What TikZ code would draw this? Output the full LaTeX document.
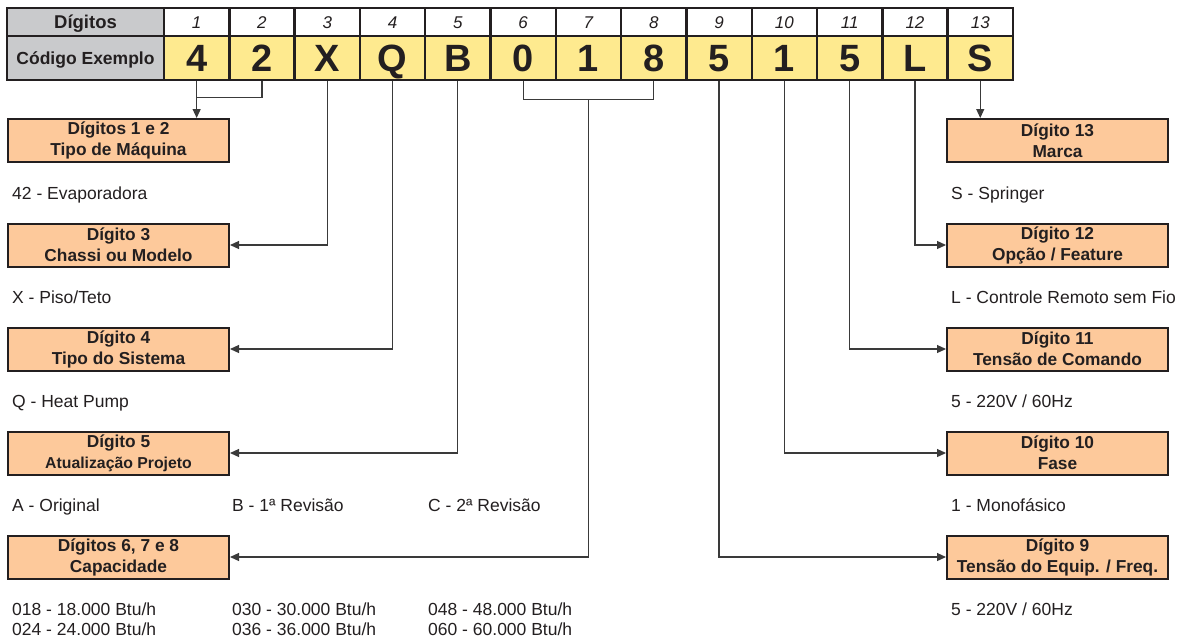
\documentclass[tikz,border=0pt]{standalone}
\usepackage{fontspec}
\setmainfont{Liberation Sans}
\usetikzlibrary{arrows.meta,calc}
\definecolor{ink}{HTML}{231F20}
\definecolor{hdrgray}{HTML}{C9CACC}
\definecolor{codeyel}{HTML}{FEEA8F}
\definecolor{peach}{HTML}{FDC99B}
\definecolor{wire}{HTML}{3A3A3A}
\tikzset{
  cell/.style={draw=ink, line width=2.4pt, minimum width=65.3pt, inner sep=0pt, text=ink},
  numcell/.style={cell, minimum height=28pt, text height=12.2pt, text depth=0pt, font=\fontsize{17}{20}\selectfont\itshape},
  codecell/.style={cell, fill=codeyel, minimum height=44pt, text height=27.5pt, text depth=0pt, font=\fontsize{38}{40}\selectfont\bfseries},
  hdr/.style={draw=ink, line width=2.4pt, fill=hdrgray, minimum width=157pt, inner sep=0pt, text depth=0pt, text=ink},
  infobox/.style={draw=ink, line width=2pt, fill=peach, minimum width=221pt, minimum height=43pt, inner sep=0pt, align=center, font=\fontsize{17.3}{21}\selectfont\bfseries, text=ink},
  desc/.style={anchor=base west, inner sep=0pt, font=\fontsize{17.5}{20}\selectfont, text=ink},
  conn/.style={draw=wire, line width=1.2pt},
  arr/.style={conn, -{Triangle[length=9pt,width=8pt]}}
}
\begin{document}
\begin{tikzpicture}[x=1pt,y=-1pt]
\useasboundingbox (0,0) rectangle (1186,638);
% header
\node[hdr, minimum height=28pt, text height=13.3pt, font=\fontsize{18.5}{20}\selectfont\bfseries] (hd) at (85.5,22) {Dígitos};
\node[hdr, minimum height=44pt, text height=12.6pt, font=\fontsize{17.5}{20}\selectfont\bfseries] (hc) at (85.5,58) {Código Exemplo};
\foreach \i/\ch in {1/4,2/2,3/X,4/Q,5/B,6/0,7/1,8/8,9/5,10/1,11/5,12/L,13/S}{
  \pgfmathsetmacro{\cx}{164+65.3*(\i-0.5)}
  \node[numcell] (n\i) at (\cx,22) {\i};
  \node[codecell] (c\i) at (\cx,58) {\ch};
}
% left boxes
\node[infobox] (b12) at (118.5,140.5) {Dígitos 1 e 2\\Tipo de Máquina};
\node[infobox] (b3) at (118.5,245) {Dígito 3\\Chassi ou Modelo};
\node[infobox] (b4) at (118.5,349) {Dígito 4\\Tipo do Sistema};
\node[infobox] (b5) at (118.5,453) {Dígito 5\\{\fontsize{15.8}{19}\selectfont Atualização Projeto}};
\node[infobox] (b678) at (118.5,557) {Dígitos 6, 7 e 8\\Capacidade};
% right boxes
\node[infobox] (b13) at (1057.5,140.5) {Dígito 13\\Marca};
\node[infobox] (b12r) at (1057.5,245) {Dígito 12\\Opção / Feature};
\node[infobox] (b11) at (1057.5,349) {Dígito 11\\Tensão de Comando};
\node[infobox] (b10) at (1057.5,453) {Dígito 10\\Fase};
\node[infobox] (b9) at (1057.5,557) {Dígito 9\\Tensão do Equip. / Freq.};
% descriptions left
\node[desc] (t1) at (12,199) {42 - Evaporadora};
\node[desc] (t3) at (12,303) {X - Piso/Teto};
\node[desc] (t4) at (12,407) {Q - Heat Pump};
\node[desc] (t5a) at (12,511) {A - Original};
\node[desc] (t5b) at (232,511) {B - 1ª Revisão};
\node[desc] (t5c) at (428,511) {C - 2ª Revisão};
\node[desc] (t6a) at (12,615) {018 - 18.000 Btu/h};
\node[desc] (t6b) at (12,635) {024 - 24.000 Btu/h};
\node[desc] (t6c) at (232,615) {030 - 30.000 Btu/h};
\node[desc] (t6d) at (232,635) {036 - 36.000 Btu/h};
\node[desc] (t6e) at (428,615) {048 - 48.000 Btu/h};
\node[desc] (t6f) at (428,635) {060 - 60.000 Btu/h};
% descriptions right
\node[desc] (r13) at (951,199) {S - Springer};
\node[desc] (r12) at (951,303) {L - Controle Remoto sem Fio};
\node[desc] (r11) at (951,407) {5 - 220V / 60Hz};
\node[desc] (r10) at (951,511) {1 - Monofásico};
\node[desc] (r9) at (951,615) {5 - 220V / 60Hz};
% connectors
\coordinate (j12) at ($(c1.south)+(0,16)$);
\coordinate (j678) at ($(c7.south)+(0,18)$);
\draw[conn] (c2.south) |- (j12);
\draw[arr] (c1.south) -- (c1.south |- b12.north);
\draw[arr] (c3.south) |- (b3.east);
\draw[arr] (c4.south) |- (b4.east);
\draw[arr] (c5.south) |- (b5.east);
\draw[conn] (c6.south) |- (j678) -| (c8.south);
\draw[arr] (j678) |- (b678.east);
\draw[arr] (c9.south) |- (b9.west);
\draw[arr] (c10.south) |- (b10.west);
\draw[arr] (c11.south) |- (b11.west);
\draw[arr] (c12.south) |- (b12r.west);
\draw[arr] (c13.south) -- (c13.south |- b13.north);
\end{tikzpicture}
\end{document}
